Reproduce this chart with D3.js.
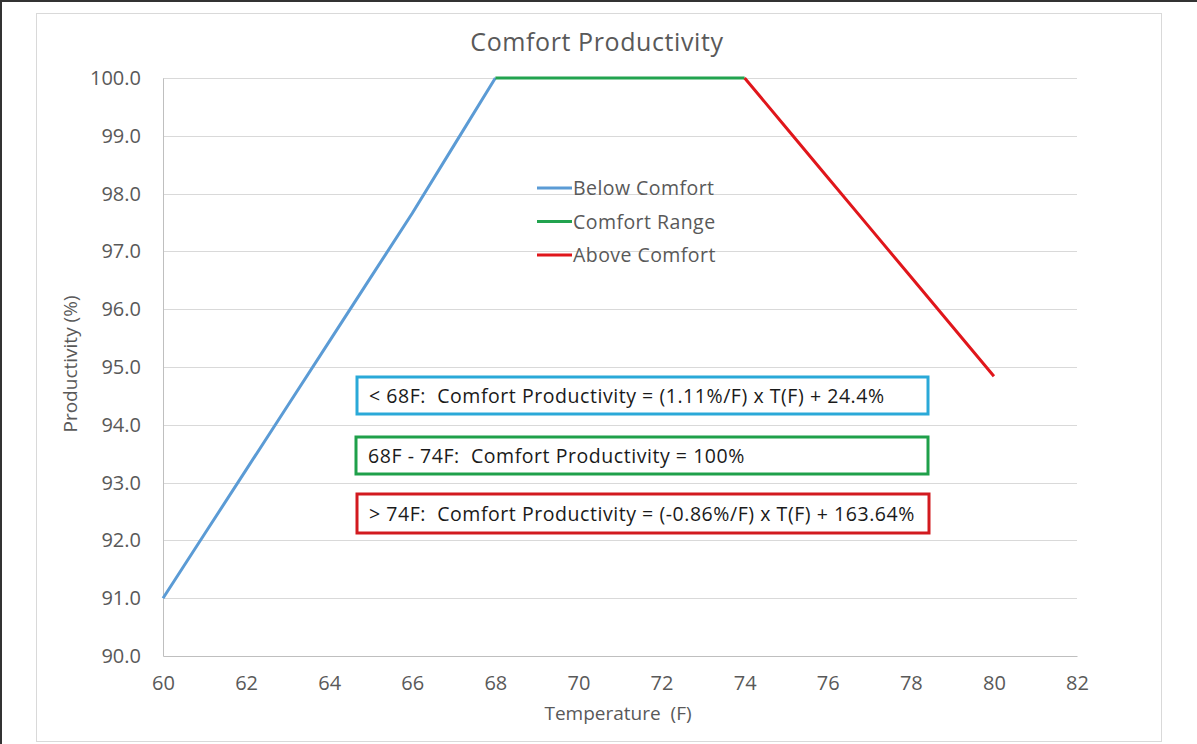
<!DOCTYPE html>
<html lang="en">
<head>
<meta charset="UTF-8">
<script src="https://d3js.org/d3.v7.min.js"></script>
<title>Comfort Productivity</title>
<style>
  body { margin: 0; background: #fff; }
  text { font-family: "Open Sans", "Noto Sans", sans-serif; white-space: pre; }
</style>
</head>
<body>
<div id="chart"></div>
<script>
// data
var belowTemp = [60, 61, 62, 63, 64, 65, 66, 67, 68];
var belowProd = [91.0, 92.11, 93.22, 94.33, 95.44, 96.55, 97.66, 98.83, 100.0];
var rangeTemp = [68, 69, 70, 71, 72, 73, 74];
var rangeProd = [100, 100, 100, 100, 100, 100, 100];
var aboveTemp = [74, 75, 76, 77, 78, 79, 80];
var aboveProd = [100.0, 99.14, 98.28, 97.42, 96.56, 95.70, 94.84];

var seriesNames = ["Below Comfort", "Comfort Range", "Above Comfort"];
var seriesColors = ["#5b9bd5", "#22a34f", "#e0161b"];
var xTicks = [60, 62, 64, 66, 68, 70, 72, 74, 76, 78, 80, 82];
var yTicks = [90, 91, 92, 93, 94, 95, 96, 97, 98, 99, 100];
var notes = [
  "< 68F:  Comfort Productivity = (1.11%/F) x T(F) + 24.4%",
  "68F - 74F:  Comfort Productivity = 100%",
  "> 74F:  Comfort Productivity = (-0.86%/F) x T(F) + 163.64%"
];
var noteColors = ["#2aa9d8", "#1fa04a", "#d21a1f"];

var W = 1197, H = 744;
var margin = { top: 78, right: 120, bottom: 88, left: 163 };
var width = W - margin.left - margin.right,
    height = H - margin.top - margin.bottom;

var svg = d3.select("#chart").append("svg")
  .attr("width", W).attr("height", H);

// outer frame (dark on top/left) and chart area border
svg.append("line").attr("x1", 0).attr("x2", W).attr("y1", 1).attr("y2", 1)
  .attr("stroke", "#333").attr("stroke-width", 2);
svg.append("line").attr("x1", 1).attr("x2", 1).attr("y1", 0).attr("y2", H)
  .attr("stroke", "#333").attr("stroke-width", 2);
svg.append("rect").attr("x", 36.5).attr("y", 13.5).attr("width", 1125).attr("height", 728)
  .attr("fill", "#fff").attr("stroke", "#d9d9d9");

svg.append("text").attr("x", 597).attr("y", 51).attr("text-anchor", "middle")
  .attr("font-size", 25).attr("letter-spacing", 0.6)
  .attr("fill", "#595959").text("Comfort Productivity");

var g = svg.append("g").attr("transform", "translate(" + margin.left + "," + margin.top + ")");

var x = d3.scaleLinear().domain([60, 82]).range([0, width]);
var y = d3.scaleLinear().domain([90, 100]).range([height, 0]);

// gridlines
g.append("g").selectAll("line").data(yTicks.slice(1)).enter().append("line")
  .attr("x1", 0).attr("x2", width)
  .attr("y1", function (d) { return Math.round(y(d)) + 0.5; })
  .attr("y2", function (d) { return Math.round(y(d)) + 0.5; })
  .attr("stroke", "#d9d9d9");

var xAxis = g.append("g").attr("transform", "translate(0," + height + ")")
  .call(d3.axisBottom(x).tickValues(xTicks).tickSize(0).tickPadding(20).tickFormat(d3.format("d")));
var yAxis = g.append("g")
  .call(d3.axisLeft(y).tickValues(yTicks).tickSize(0).tickPadding(22).tickFormat(d3.format(".1f")));
[xAxis, yAxis].forEach(function (a) {
  a.select(".domain").attr("stroke", "#bfbfbf");
  a.selectAll("text").attr("font-size", 20).attr("fill", "#595959")
    .attr("font-family", "'Open Sans', 'Noto Sans', sans-serif");
});

svg.append("text").attr("x", 618).attr("y", 720).attr("text-anchor", "middle")
  .attr("font-size", 19).attr("fill", "#595959").text("Temperature  (F)");
svg.append("text").attr("transform", "translate(77,364) rotate(-90)").attr("text-anchor", "middle")
  .attr("font-size", 19).attr("fill", "#595959").text("Productivity (%)");

// lines
var series = [
  { t: belowTemp, p: belowProd },
  { t: rangeTemp, p: rangeProd },
  { t: aboveTemp, p: aboveProd }
];
var line = d3.line()
  .x(function (d) { return x(d[0]); })
  .y(function (d) { return y(d[1]); });
series.forEach(function (s, i) {
  g.append("path")
    .datum(d3.zip(s.t, s.p))
    .attr("fill", "none")
    .attr("stroke", seriesColors[i])
    .attr("stroke-width", 3)
    .attr("stroke-linejoin", "round")
    .attr("d", line);
});

// legend
var legend = svg.append("g").attr("transform", "translate(537,188)");
seriesNames.forEach(function (n, i) {
  var row = legend.append("g").attr("transform", "translate(0," + (i * 33.5) + ")");
  row.append("line").attr("x1", 0).attr("x2", 35).attr("stroke", seriesColors[i]).attr("stroke-width", 3);
  row.append("text").attr("x", 36).attr("y", 7).attr("font-size", 19.5).attr("letter-spacing", 0.45)
    .attr("fill", "#595959").text(n);
});

// annotation boxes
var boxes = [
  { x: 357, y: 377, w: 571, h: 37 },
  { x: 356, y: 437, w: 572, h: 37 },
  { x: 357, y: 494, w: 572, h: 39 }
];
notes.forEach(function (n, i) {
  var b = boxes[i];
  svg.append("rect").attr("x", b.x).attr("y", b.y).attr("width", b.w).attr("height", b.h)
    .attr("fill", "#fff").attr("stroke", noteColors[i]).attr("stroke-width", 3);
  svg.append("text").attr("x", b.x + 12).attr("y", b.y + b.h / 2 + 7)
    .attr("font-size", 19.5).attr("letter-spacing", 0.55)
    .attr("fill", "#1a1a1a").text(n);
});
</script>
</body>
</html>
